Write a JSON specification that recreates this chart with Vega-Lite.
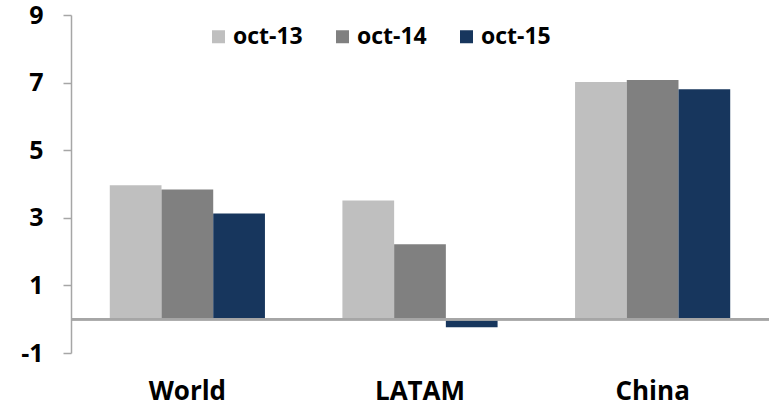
{
  "$schema": "https://vega.github.io/schema/vega-lite/v6.json",
  "autosize": {"type": "none"},
  "padding": {"left": 71, "top": 15, "right": 0, "bottom": 55},
  "width": 698,
  "height": 338,
  "background": "white",
  "config": {
    "view": {"stroke": null},
    "font": "Open Sans"
  },
  "data": {
    "values": [
      {"region": "World", "series": "oct-13", "value": 3.96},
      {"region": "World", "series": "oct-14", "value": 3.84},
      {"region": "World", "series": "oct-15", "value": 3.13},
      {"region": "LATAM", "series": "oct-13", "value": 3.51},
      {"region": "LATAM", "series": "oct-14", "value": 2.22},
      {"region": "LATAM", "series": "oct-15", "value": -0.24},
      {"region": "China", "series": "oct-13", "value": 7.02},
      {"region": "China", "series": "oct-14", "value": 7.08},
      {"region": "China", "series": "oct-15", "value": 6.8}
    ]
  },
  "layer": [
    {
      "mark": {"type": "bar"},
      "encoding": {
        "x": {
          "field": "region",
          "type": "nominal",
          "sort": ["World", "LATAM", "China"],
          "scale": {"paddingInner": 0.333, "paddingOuter": 0.1667},
          "axis": {
            "title": null,
            "domain": false,
            "ticks": false,
            "tickSize": 0,
            "labelAngle": 0,
            "labelPadding": 25,
            "labelFont": "Open Sans",
            "labelFontWeight": "bold",
            "labelFontSize": 26,
            "labelColor": "black"
          }
        },
        "xOffset": {
          "field": "series",
          "type": "nominal",
          "scale": {"paddingInner": 0, "paddingOuter": 0}
        },
        "y": {
          "field": "value",
          "type": "quantitative",
          "scale": {"domain": [-1, 9], "nice": false, "zero": false},
          "axis": {
            "title": null,
            "values": [-1, 1, 3, 5, 7, 9],
            "labelExpr": "toString(datum.value)",
            "grid": false,
            "domainColor": "#a6a6a6",
            "domainWidth": 1.5,
            "tickColor": "#a6a6a6",
            "tickWidth": 1.5,
            "tickSize": 8,
            "labelPadding": 20,
            "labelFont": "Open Sans",
            "labelFontWeight": "bold",
            "labelFontSize": 25,
            "labelColor": "black"
          }
        },
        "color": {
          "field": "series",
          "type": "nominal",
          "scale": {
            "domain": ["oct-13", "oct-14", "oct-15"],
            "range": ["#BFBFBF", "#808080", "#17365D"]
          },
          "legend": {
            "title": null,
            "orient": "none",
            "direction": "horizontal",
            "legendX": 136,
            "legendY": 10,
            "symbolType": "square",
            "symbolSize": 169,
            "symbolStrokeWidth": 0,
            "labelFont": "Open Sans",
            "labelFontWeight": "bold",
            "labelFontSize": 23,
            "labelColor": "black",
            "labelOffset": 3,
            "columnPadding": 28
          }
        }
      }
    },
    {
      "mark": {"type": "rule", "color": "#a6a6a6", "strokeWidth": 2},
      "encoding": {"y": {"datum": 0}}
    }
  ]
}
